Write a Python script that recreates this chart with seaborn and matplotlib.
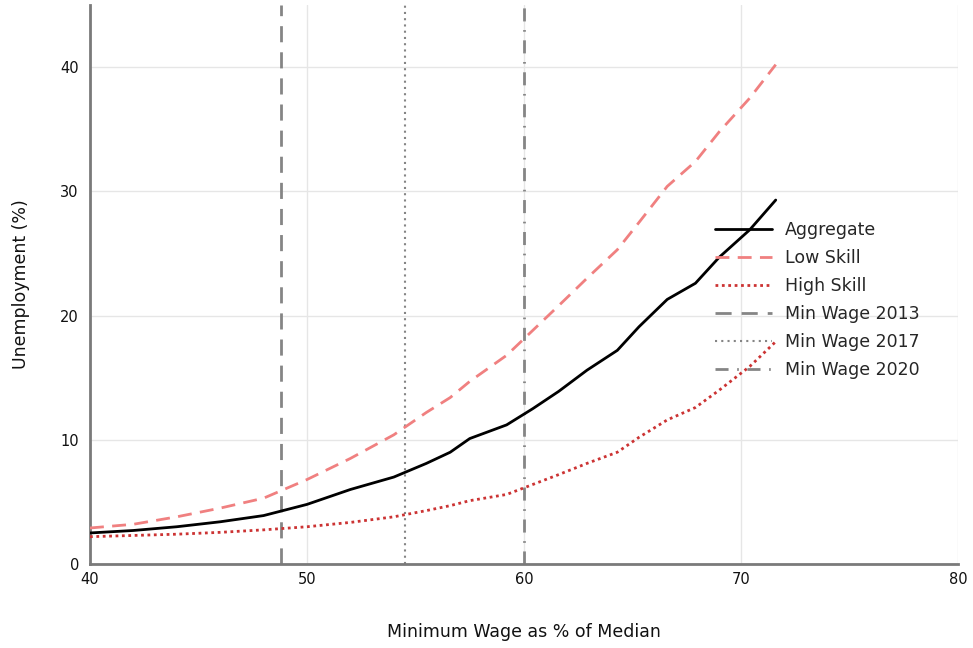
import matplotlib
matplotlib.use("Agg")
import matplotlib.pyplot as plt
import seaborn as sns
import pandas as pd

# ---- data ----
min_wage = [40, 42, 44, 46, 48, 50, 52, 54, 55.5, 56.6, 57.5, 59.2, 60.4, 61.6,
            62.9, 64.3, 65.3, 66.6, 67.9, 69.0, 70.4, 71.6]
aggregate = [2.5, 2.7, 3.0, 3.4, 3.9, 4.8, 6.0, 7.0, 8.1, 9.0, 10.1, 11.2, 12.5, 13.9,
             15.6, 17.2, 19.1, 21.3, 22.6, 24.7, 26.9, 29.3]
low_skill = [2.9, 3.2, 3.8, 4.5, 5.3, 6.8, 8.5, 10.4, 12.2, 13.4, 14.7, 16.8, 18.8, 20.8,
             23.0, 25.3, 27.5, 30.4, 32.4, 34.8, 37.5, 40.2]
high_skill = [2.2, 2.3, 2.4, 2.55, 2.75, 3.0, 3.35, 3.8, 4.3, 4.7, 5.1, 5.6, 6.4, 7.2,
              8.1, 9.0, 10.2, 11.6, 12.6, 14.0, 15.9, 17.9]
mw_labels = ["Min Wage 2013", "Min Wage 2017", "Min Wage 2020"]
mw_values = [48.8, 54.5, 60.0]
x_ticks = [40, 50, 60, 70, 80]
y_ticks = [0, 10, 20, 30, 40]

sns.set_style("white")
plt.rcParams["font.family"] = ["DejaVu Sans"]

fig = plt.figure(figsize=(9.73, 6.48), dpi=100)
ax = fig.add_axes([0.0925, 0.1296, 0.8921, 0.8627])

ax.grid(True, color="#e6e6e6", linewidth=1.0, zorder=0)

series = [
    ("Aggregate", aggregate, "black", "-", 2.0),
    ("Low Skill", low_skill, "#f08080", (0, (5, 3)), 2.0),
    ("High Skill", high_skill, "#cc3333", (0, (1, 1.3)), 2.0),
]
for name, vals, col, ls, lw in series:
    df = pd.DataFrame({"x": min_wage, "y": vals})
    sns.lineplot(data=df, x="x", y="y", ax=ax, color=col, linestyle=ls,
                 linewidth=lw, label=name, zorder=3)

vstyles = [((0, (5.8, 3.6)), 2.0), ((0, (1, 2)), 1.5), ((0, (4.7, 3.1, 0.6, 3.1)), 2.0)]
for lab, v, (ls, lw) in zip(mw_labels, mw_values, vstyles):
    ax.axvline(v, color="#858585", linestyle=ls, linewidth=lw, label=lab, zorder=2)

ax.set_xlim(40, 80)
ax.set_ylim(0, 45)
ax.set_xticks(x_ticks)
ax.set_yticks(y_ticks)
ax.tick_params(direction="in", length=4, width=1.5, color="#555555",
               labelsize=10.5, labelcolor="#111111", pad=8)
ax.tick_params(axis="x", pad=6)
for s in ["top", "right"]:
    ax.spines[s].set_visible(False)
for s in ["left", "bottom"]:
    ax.spines[s].set_color("#7a7a7a")
    ax.spines[s].set_linewidth(2.0)

ax.set_xlabel("Minimum Wage as % of Median", fontsize=12.5, labelpad=26, color="#111111")
ax.set_ylabel("Unemployment (%)", fontsize=12.5, labelpad=22, color="#111111")

ax.legend(loc="center left", bbox_to_anchor=(0.720, 0.472), frameon=False,
          fontsize=12.5, handlelength=3.3, handletextpad=0.75, labelspacing=0.58,
          borderaxespad=0, borderpad=0)

fig.savefig("out.png", dpi=100)
